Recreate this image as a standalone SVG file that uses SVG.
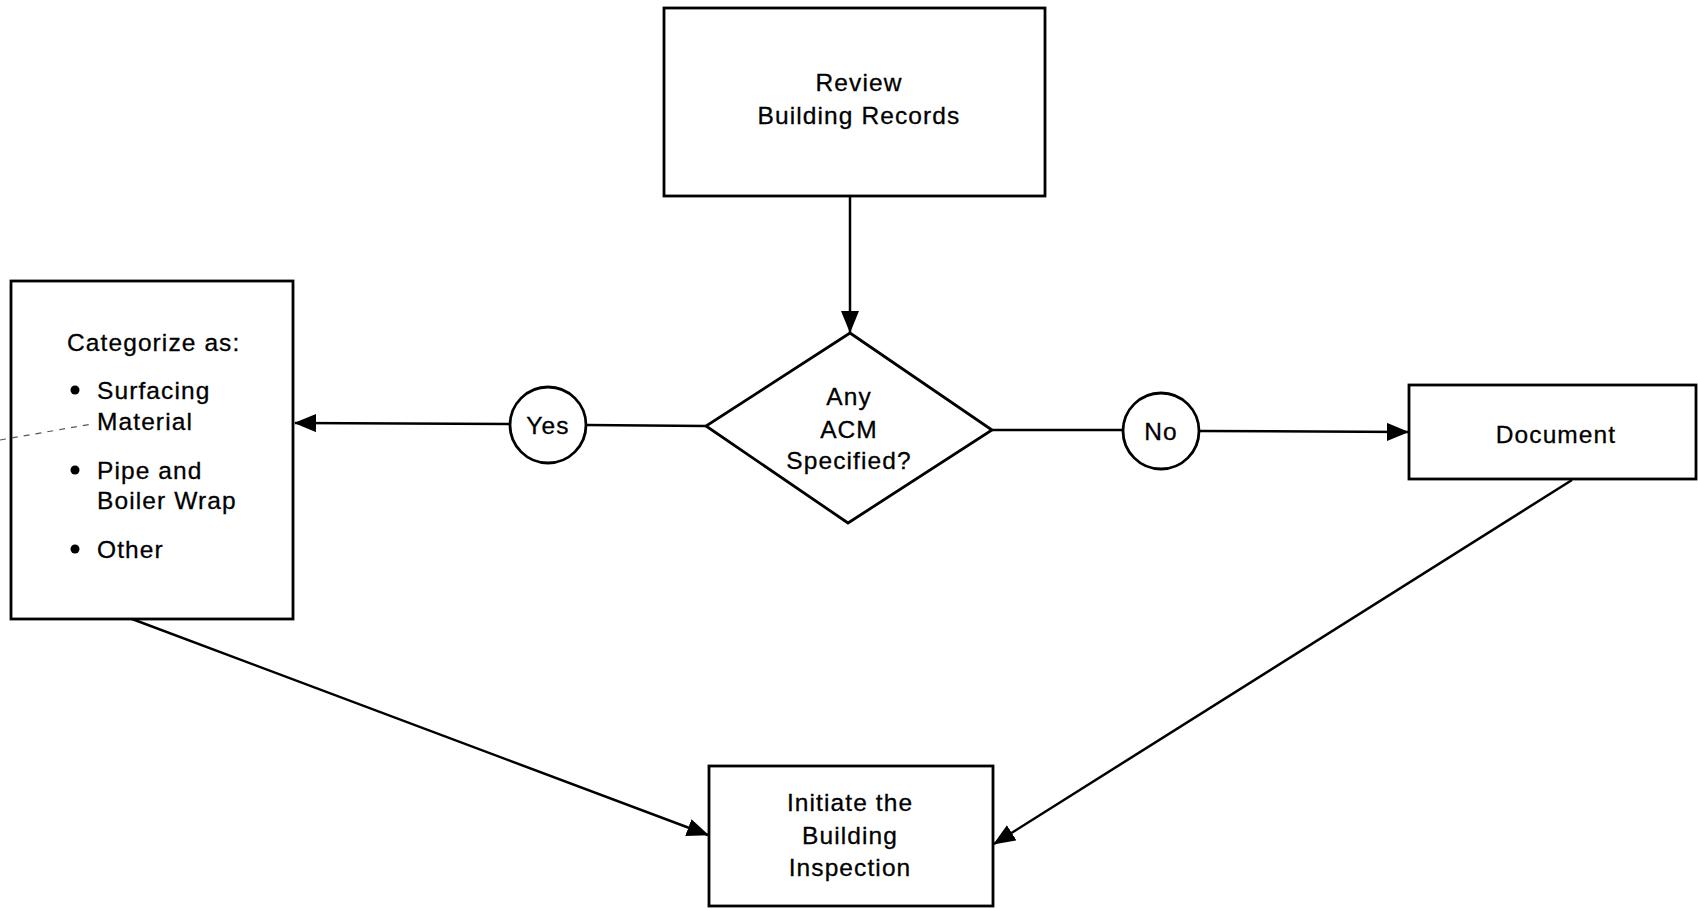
<svg xmlns="http://www.w3.org/2000/svg" width="1698" height="909" viewBox="0 0 1698 909">
<style>
.box{fill:#fff;stroke:#000;stroke-width:2.8}
.ln{fill:none;stroke:#000;stroke-width:2.5}
.t{font-family:"Liberation Sans",Arial,sans-serif;font-size:24.5px;letter-spacing:1.1px;fill:#000;text-anchor:middle;dominant-baseline:central;stroke:#000;stroke-width:0.3}
.tl{font-family:"Liberation Sans",Arial,sans-serif;font-size:24.5px;letter-spacing:1.1px;fill:#000;dominant-baseline:central;stroke:#000;stroke-width:0.3}
</style>
<defs>
<marker id="ah" markerUnits="userSpaceOnUse" markerWidth="22" markerHeight="18" viewBox="0 0 22 18" refX="21" refY="9" orient="auto">
<path d="M0,0 L22,9 L0,18 Z" fill="#000"/>
</marker>
</defs>
<rect width="1698" height="909" fill="#fff"/>
<g id="review">
<rect class="box" x="664" y="8" width="381" height="188"/>
<text class="t" x="859" y="82">Review</text>
<text class="t" x="859" y="115">Building Records</text>
</g>
<g id="decision">
<polygon class="box" points="850,333 992,430 848,523 706,426"/>
<text class="t" x="849" y="396">Any</text>
<text class="t" x="849" y="429">ACM</text>
<text class="t" x="849" y="460">Specified?</text>
</g>
<g id="yes">
<circle class="box" cx="548" cy="425" r="38"/>
<text class="t" x="548" y="425">Yes</text>
</g>
<g id="no">
<circle class="box" cx="1161" cy="431" r="38"/>
<text class="t" x="1161" y="431">No</text>
</g>
<g id="categorize">
<rect class="box" x="11" y="281" width="282" height="338"/>
<text class="tl" x="67" y="342">Categorize as:</text>
<circle cx="75" cy="390" r="4.5"/>
<text class="tl" x="97" y="390">Surfacing</text>
<text class="tl" x="97" y="421">Material</text>
<circle cx="75" cy="470" r="4.5"/>
<text class="tl" x="97" y="470">Pipe and</text>
<text class="tl" x="97" y="500">Boiler Wrap</text>
<circle cx="75" cy="549" r="4.5"/>
<text class="tl" x="97" y="549">Other</text>
</g>
<g id="document">
<rect class="box" x="1409" y="385" width="287" height="94"/>
<text class="t" x="1556" y="434">Document</text>
</g>
<g id="initiate">
<rect class="box" x="709" y="766" width="284" height="140"/>
<text class="t" x="850" y="802">Initiate the</text>
<text class="t" x="850" y="835">Building</text>
<text class="t" x="850" y="867">Inspection</text>
</g>
<g id="connectors">
<line class="ln" x1="850" y1="196" x2="850" y2="332" marker-end="url(#ah)"/>
<line class="ln" x1="706" y1="426" x2="586" y2="425"/>
<line class="ln" x1="510" y1="424" x2="295" y2="423" marker-end="url(#ah)"/>
<line class="ln" x1="992" y1="430" x2="1123" y2="430"/>
<line class="ln" x1="1199" y1="431" x2="1408" y2="432" marker-end="url(#ah)"/>
<line class="ln" x1="132" y1="619" x2="708" y2="835" marker-end="url(#ah)"/>
<line class="ln" x1="1572" y1="480" x2="994" y2="844" marker-end="url(#ah)"/>
<line x1="0" y1="440" x2="92" y2="424" stroke="#555" stroke-width="1.2" stroke-dasharray="6,6"/>
</g>
</svg>
